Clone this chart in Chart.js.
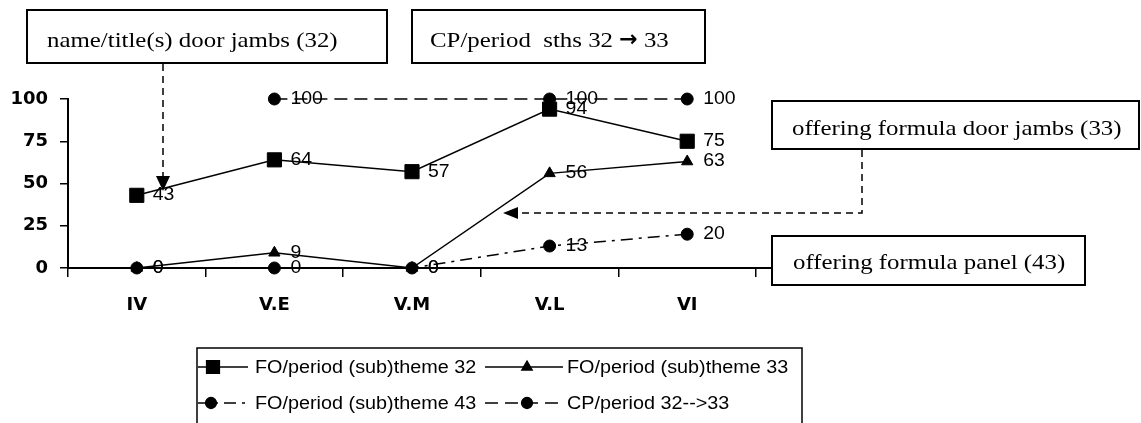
<!DOCTYPE html>
<html>
<head>
<meta charset="utf-8">
<script src="https://cdn.jsdelivr.net/npm/chart.js@4.4.1/dist/chart.umd.min.js"></script>
<style>
html, body { margin: 0; padding: 0; background: #fff; }
</style>
</head>
<body>
<canvas id="periodChart" width="1141" height="423"></canvas>
<script>
// periods and percentages per (sub)theme
const periods = ['IV', 'V.E', 'V.M', 'V.L', 'VI'];
const theme32 = [43, 64, 57, 94, 75];
const theme33 = [0, 9, 0, 56, 63];
const theme43 = [0, 0, 0, 13, 20];
const cp32to33 = [null, 100, null, 100, 100];
const seriesNames = [
    'FO/period (sub)theme 32',
    'FO/period (sub)theme 33',
    'FO/period (sub)theme 43',
    'CP/period 32-->33'
];

// callout boxes drawn around the plot; parts[] mixes serif text with a bold arrow
const notes = [
    { parts: ['name/title(s) door jambs (32)'], x: 27, y: 10, w: 360, h: 53, tx: 47, base: 47 },
    { parts: ['CP/period  sths 32 ', '\u2192', ' 33'], x: 412, y: 10, w: 293, h: 53, tx: 430, base: 47 },
    { parts: ['offering formula door jambs (33)'], x: 772, y: 101, w: 367, h: 48, tx: 792, base: 135 },
    { parts: ['offering formula panel (43)'], x: 772, y: 236, w: 313, h: 49, tx: 793, base: 269 }
];

const sansFont = '"Liberation Sans", Arial, sans-serif';
const serifFont = '"Liberation Serif", "Times New Roman", serif';

function stretchedText(ctx, text, x, y, sx) {
    ctx.save();
    ctx.translate(x, y);
    ctx.scale(sx, 1);
    ctx.fillText(text, 0, 0);
    ctx.restore();
}

function dashedPath(ctx, pts) {
    ctx.beginPath();
    ctx.moveTo(pts[0][0], pts[0][1]);
    for (let i = 1; i < pts.length; i++) ctx.lineTo(pts[i][0], pts[i][1]);
    ctx.stroke();
}

function arrowHead(ctx, tip, a, b) {
    ctx.beginPath();
    ctx.moveTo(tip[0], tip[1]);
    ctx.lineTo(a[0], a[1]);
    ctx.lineTo(b[0], b[1]);
    ctx.closePath();
    ctx.fill();
}

const valueLabels = {
    id: 'valueLabels',
    afterDatasetsDraw(chart) {
        const ctx = chart.ctx;
        ctx.save();
        ctx.fillStyle = '#000';
        ctx.font = '18px ' + sansFont;
        ctx.textBaseline = 'middle';
        chart.data.datasets.forEach((ds, i) => {
            const meta = chart.getDatasetMeta(i);
            meta.data.forEach((pt, j) => {
                if (ds.data[j] === null) return;
                stretchedText(ctx, String(ds.data[j]), pt.x + 16, pt.y, 1.08);
            });
        });
        ctx.restore();
    }
};

const extras = {
    id: 'extras',
    afterDraw(chart) {
        const ctx = chart.ctx;
        const area = chart.chartArea;
        ctx.save();
        ctx.strokeStyle = '#000';
        ctx.fillStyle = '#000';

        // axis line runs on to the panel callout
        ctx.lineWidth = 2;
        ctx.beginPath();
        ctx.moveTo(area.right, area.bottom);
        ctx.lineTo(772, area.bottom);
        ctx.stroke();

        // dashed pointers
        ctx.lineWidth = 1.5;
        ctx.setLineDash([7, 5]);
        dashedPath(ctx, [[163, 64], [163, 178]]);
        dashedPath(ctx, [[862, 150], [862, 213], [516, 213]]);
        ctx.setLineDash([]);
        arrowHead(ctx, [163, 191], [156, 176], [170, 176]);
        arrowHead(ctx, [503, 213], [518, 207], [518, 219]);

        // callout boxes
        ctx.textBaseline = 'alphabetic';
        notes.forEach(n => {
            ctx.fillStyle = '#fff';
            ctx.fillRect(n.x, n.y, n.w, n.h);
            ctx.lineWidth = 2;
            ctx.strokeStyle = '#000';
            ctx.strokeRect(n.x, n.y, n.w, n.h);
            ctx.fillStyle = '#000';
            let x = n.tx;
            n.parts.forEach(p => {
                const arrow = p === '\u2192';
                ctx.font = arrow ? 'bold 22px "DejaVu Sans"' : '22px ' + serifFont;
                const sx = arrow ? 1.0 : 1.13;
                stretchedText(ctx, p, x, arrow ? n.base - 1 : n.base, sx);
                x += ctx.measureText(p).width * sx;
            });
        });

        // legend
        ctx.lineWidth = 1.5;
        ctx.strokeRect(197, 348, 605, 80);
        const slots = [
            { x0: 197, x1: 248, mx: 213, y: 367, tx: 255 },
            { x0: 485, x1: 563, mx: 527, y: 367, tx: 567 },
            { x0: 197, x1: 248, mx: 211, y: 403, tx: 255 },
            { x0: 485, x1: 563, mx: 527, y: 403, tx: 567 }
        ];
        chart.data.datasets.forEach((ds, i) => {
            const s = slots[i];
            ctx.save();
            ctx.beginPath();
            ctx.rect(198, 349, 603, 78);
            ctx.clip();
            ctx.lineWidth = ds.borderWidth;
            ctx.setLineDash(ds.legendDash || ds.borderDash || []);
            dashedPath(ctx, [[s.x0, s.y], [s.x1, s.y]]);
            ctx.setLineDash([]);
            ctx.fillStyle = '#000';
            Chart.helpers.drawPoint(ctx, {
                pointStyle: ds.pointStyle,
                radius: ds.pointRadius * 0.9,
                rotation: 0,
                borderWidth: 1
            }, s.mx, s.y);
            ctx.restore();
            ctx.fillStyle = '#000';
            ctx.font = '18px ' + sansFont;
            ctx.textBaseline = 'middle';
            stretchedText(ctx, ds.label, s.tx, s.y + 1, 1.1);
        });
        ctx.restore();
    }
};

const ctx = document.getElementById('periodChart').getContext('2d');
const periodChart = new Chart(ctx, {
    type: 'line',
    data: {
        labels: periods,
        datasets: [{
            label: seriesNames[0],
            data: theme32,
            pointStyle: 'rect',
            pointRadius: 10
        }, {
            label: seriesNames[1],
            data: theme33,
            pointStyle: 'triangle',
            pointRadius: 6.5
        }, {
            label: seriesNames[2],
            data: theme43,
            pointStyle: 'circle',
            pointRadius: 6,
            borderDash: [12, 6, 3, 6]
        }, {
            label: seriesNames[3],
            data: cp32to33,
            pointStyle: 'circle',
            pointRadius: 6,
            spanGaps: true,
            legendDash: [13, 7],
            segment: {
                borderDash: c => (c.p1DataIndex - c.p0DataIndex > 1 ? [5, 4, 2, 4] : [13, 7]),
                borderWidth: c => (c.p1DataIndex - c.p0DataIndex > 1 ? 1.2 : 1.5)
            }
        }].map(ds => Object.assign({
            borderColor: '#000',
            backgroundColor: '#000',
            pointBackgroundColor: '#000',
            pointBorderColor: '#000',
            pointBorderWidth: 1,
            borderWidth: 1.5,
            tension: 0,
            clip: false
        }, ds))
    },
    options: {
        responsive: false,
        devicePixelRatio: 1,
        animation: false,
        layout: {
            padding: { top: 99, left: 0, right: 385, bottom: 105 }
        },
        plugins: {
            legend: { display: false },
            tooltip: { enabled: false }
        },
        scales: {
            x: {
                offset: true,
                afterFit: scale => { scale.height = 50; },
                grid: {
                    offset: true,
                    drawOnChartArea: false,
                    color: '#000',
                    lineWidth: 1.5,
                    tickLength: 9
                },
                border: { color: '#000', width: 2 },
                ticks: {
                    color: '#000',
                    padding: 18,
                    font: { family: '"DejaVu Sans"', size: 18, weight: 'bold' }
                }
            },
            y: {
                min: 0,
                max: 100,
                afterFit: scale => { scale.width = 68; },
                grid: {
                    drawOnChartArea: false,
                    color: '#000',
                    lineWidth: 1.5,
                    tickLength: 8
                },
                border: { color: '#000', width: 2 },
                ticks: {
                    stepSize: 25,
                    color: '#000',
                    padding: 12,
                    font: { family: '"DejaVu Sans"', size: 18, weight: 'bold' }
                }
            }
        }
    },
    plugins: [valueLabels, extras]
});
</script>
</body>
</html>
